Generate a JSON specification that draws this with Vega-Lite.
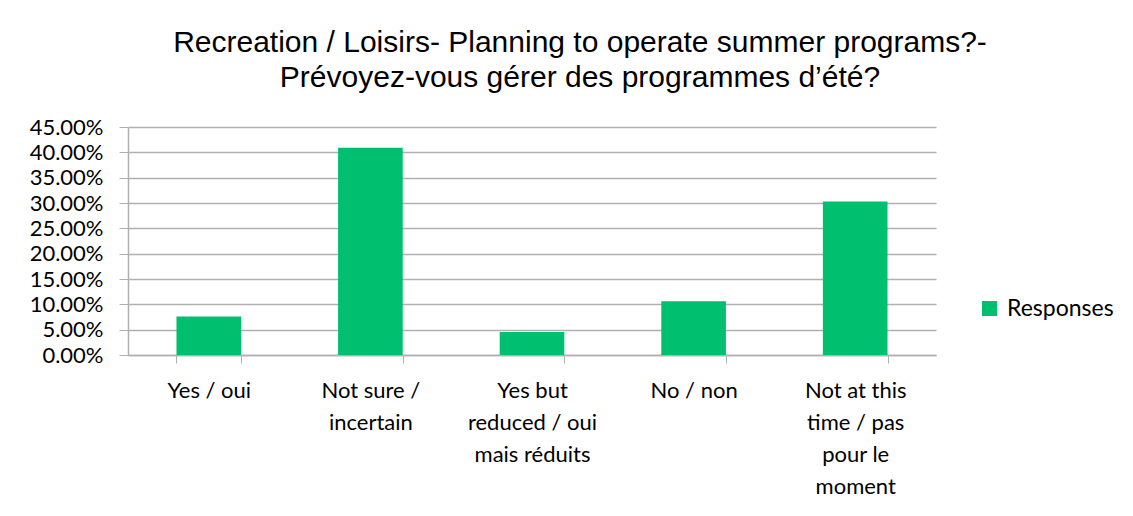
{
  "$schema": "https://vega.github.io/schema/vega-lite/v6.json",
  "width": 808,
  "height": 228,
  "autosize": "none",
  "padding": {"left": 128, "top": 127, "right": 197, "bottom": 161},
  "background": "white",
  "config": {"view": {"stroke": null}, "font": "Lato"},
  "title": {
    "text": ["Recreation / Loisirs- Planning to operate summer programs?-", "Prévoyez-vous gérer des programmes d’été?"],
    "font": "Liberation Sans",
    "fontSize": 30,
    "fontWeight": "normal",
    "lineHeight": 35,
    "color": "#000000",
    "anchor": "middle",
    "frame": "group",
    "dx": 48,
    "offset": 23
  },
  "data": {
    "values": [
      {"cat": "Yes / oui", "series": "Responses", "value": 0.0758},
      {"cat": "Not sure / incertain", "series": "Responses", "value": 0.4091},
      {"cat": "Yes but reduced / oui mais réduits", "series": "Responses", "value": 0.0455},
      {"cat": "No / non", "series": "Responses", "value": 0.1061},
      {"cat": "Not at this time / pas pour le moment", "series": "Responses", "value": 0.303}
    ]
  },
  "mark": {"type": "bar"},
  "encoding": {
    "x": {
      "field": "cat",
      "type": "nominal",
      "sort": null,
      "scale": {"paddingInner": 0.6, "paddingOuter": 0.3},
      "axis": {
        "title": null,
        "labelAngle": 0,
        "labelFont": "Lato",
        "labelFontSize": 22,
        "labelColor": "#000000",
        "labelLineHeight": 32,
        "labelPadding": 17,
        "tickBand": "extent",
        "tickSize": 8,
        "tickColor": "#b0b0b0",
        "domainColor": "#b0b0b0",
        "domainWidth": 1.5,
        "labelExpr": "datum.label == 'Not sure / incertain' ? ['Not sure /', 'incertain'] : datum.label == 'Yes but reduced / oui mais réduits' ? ['Yes but', 'reduced / oui', 'mais réduits'] : datum.label == 'Not at this time / pas pour le moment' ? ['Not at this', 'time / pas', 'pour le', 'moment'] : datum.label"
      }
    },
    "y": {
      "field": "value",
      "type": "quantitative",
      "scale": {"domain": [0, 0.45], "nice": false},
      "axis": {
        "title": null,
        "values": [0, 0.05, 0.1, 0.15, 0.2, 0.25, 0.3, 0.35, 0.4, 0.45],
        "format": ".2%",
        "labelFont": "Lato",
        "labelFontSize": 22,
        "labelColor": "#000000",
        "labelPadding": 16,
        "tickSize": 9,
        "tickColor": "#b0b0b0",
        "gridColor": "#b0b0b0",
        "gridWidth": 1.5,
        "domainColor": "#b0b0b0",
        "domainWidth": 1.5
      }
    },
    "color": {
      "field": "series",
      "type": "nominal",
      "scale": {"range": ["#00BF6F"]},
      "legend": {
        "title": null,
        "orient": "none",
        "legendX": 850,
        "legendY": 170,
        "symbolType": "square",
        "symbolSize": 225,
        "symbolStrokeWidth": 0,
        "labelFont": "Lato",
        "labelFontSize": 23,
        "labelColor": "#000000",
        "labelOffset": 6
      }
    }
  }
}
